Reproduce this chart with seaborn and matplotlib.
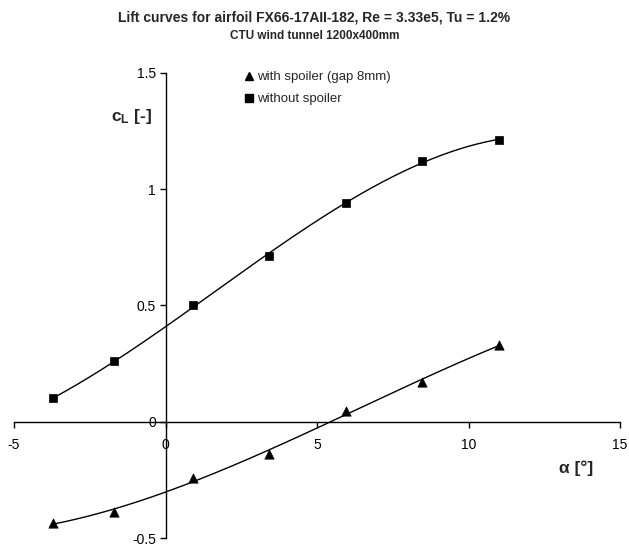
import numpy as np
import pandas as pd
import matplotlib
matplotlib.use("Agg")
import matplotlib.pyplot as plt
import seaborn as sns
from matplotlib.lines import Line2D

# ---- data ----
alpha_spoiler = [-3.7, -1.7, 0.9, 3.4, 5.95, 8.45, 11.0]
cl_spoiler = [-0.435, -0.39, -0.24, -0.14, 0.047, 0.17, 0.33]
alpha_clean = [-3.7, -1.7, 0.9, 3.4, 5.95, 8.45, 11.0]
cl_clean = [0.10, 0.26, 0.50, 0.71, 0.94, 1.12, 1.21]
xticks = [-5, 0, 5, 10, 15]
yticks = [-0.5, 0, 0.5, 1, 1.5]
ytick_labels = ["-0.5", "0", "0.5", "1", "1.5"]
xtick_labels = ["-5", "0", "5", "10", "15"]
label_spoiler = "with spoiler (gap 8mm)"
label_clean = "without spoiler"

sns.set_style("white")
plt.rcParams["font.family"] = ["Liberation Sans", "DejaVu Sans"]
plt.rcParams["axes.unicode_minus"] = False
plt.rcParams["mathtext.fontset"] = "custom"
plt.rcParams["mathtext.rm"] = "Liberation Sans"
plt.rcParams["mathtext.bf"] = "Liberation Sans:bold"
plt.rcParams["mathtext.it"] = "Liberation Sans:italic"

W, H = 629, 549
fig = plt.figure(figsize=(W / 100, H / 100), dpi=100)
ax = fig.add_axes([14 / W, 11 / H, 606 / W, 465.3 / H])

df_s = pd.DataFrame({"alpha": alpha_spoiler, "cl": cl_spoiler})
df_c = pd.DataFrame({"alpha": alpha_clean, "cl": cl_clean})

# polynomial trend lines (3rd order) through the data
for df in (df_s, df_c):
    coef = np.polyfit(df["alpha"], df["cl"], 3)
    xs = np.linspace(df["alpha"].min(), df["alpha"].max(), 200)
    sns.lineplot(x=xs, y=np.polyval(coef, xs), ax=ax, color="black",
                 linewidth=1.0, legend=False)

sns.scatterplot(data=df_s, x="alpha", y="cl", marker="^", s=45, color="black",
                edgecolor="black", linewidth=0.5, ax=ax, legend=False, zorder=5)
sns.scatterplot(data=df_c, x="alpha", y="cl", marker="s", s=40, color="black",
                edgecolor="black", linewidth=0.5, ax=ax, legend=False, zorder=5)

ax.set_xlim(-5, 15)
ax.set_ylim(-0.5, 1.5)
ax.spines["left"].set_position(("data", 0))
ax.spines["bottom"].set_position(("data", 0))
ax.spines["top"].set_visible(False)
ax.spines["right"].set_visible(False)
for sp in ("left", "bottom"):
    ax.spines[sp].set_color("black")
    ax.spines[sp].set_linewidth(1.0)
ax.set_xticks(xticks)
ax.set_xticklabels(xtick_labels)
ax.set_yticks(yticks)
ax.set_yticklabels(ytick_labels)
ax.tick_params(axis="both", direction="out", length=4, width=1, color="black",
               labelsize=10, labelcolor="black", bottom=True, left=True)
ax.tick_params(axis="x", pad=8)
ax.tick_params(axis="y", pad=3)
ax.set_xlabel("")
ax.set_ylabel("")
ax.grid(False)
ax.patch.set_alpha(0)

fig.text(152 / W, 1 - 116 / H, r"$\mathbf{c_L}$ [-]", fontsize=12.5,
         fontweight="bold", ha="right", va="center")
fig.text(576 / W, 1 - 468 / H, "α [°]", fontsize=12.5, fontweight="bold",
         ha="center", va="center")

fig.text(0.5, 1 - 17 / H, "Lift curves for airfoil FX66-17AII-182, Re = 3.33e5, Tu = 1.2%",
         ha="center", va="center", fontsize=10, fontweight="bold")
fig.text(0.5, 1 - 36 / H, "CTU wind tunnel 1200x400mm",
         ha="center", va="center", fontsize=8.5, fontweight="bold")

handles = [Line2D([], [], marker="^", linestyle="none", color="black", markersize=6),
           Line2D([], [], marker="s", linestyle="none", color="black", markersize=5.5)]
fig.legend(handles, [label_spoiler, label_clean], loc="upper left",
           bbox_to_anchor=(245 / W, 1 - 71 / H), frameon=False, fontsize=9.5,
           handlelength=0.6, handletextpad=0.3, borderpad=0, borderaxespad=0,
           labelspacing=0.75)

fig.savefig("out.png", dpi=100)
